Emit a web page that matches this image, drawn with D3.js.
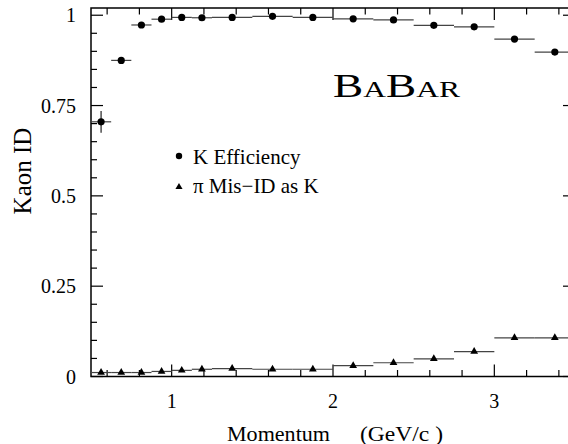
<!DOCTYPE html>
<html>
<head>
<meta charset="utf-8">
<script src="https://cdn.jsdelivr.net/npm/d3@7"></script>
<style>
  html, body { margin: 0; padding: 0; background: #fff; }
</style>
</head>
<body>
<svg id="chart" width="568" height="444"></svg>
<script>
// Momentum bins (GeV/c): lower and upper edges
const binLow  = [0.5, 0.625, 0.75, 0.875, 1.0, 1.125, 1.25, 1.5, 1.75, 2.0, 2.25, 2.5, 2.75, 3.0, 3.25];
const binHigh = [0.625, 0.75, 0.875, 1.0, 1.125, 1.25, 1.5, 1.75, 2.0, 2.25, 2.5, 2.75, 3.0, 3.25, 3.5];
// Kaon identification efficiency and its uncertainty
const kEff    = [0.705, 0.875, 0.973, 0.989, 0.994, 0.993, 0.994, 0.997, 0.994, 0.990, 0.987, 0.972, 0.968, 0.934, 0.898];
const kErr    = [0.030, 0.008, 0.005, 0.004, 0.003, 0.003, 0.003, 0.003, 0.003, 0.003, 0.003, 0.004, 0.004, 0.005, 0.006];
// Pion mis-identification rate as kaon
const piMis   = [0.011, 0.011, 0.011, 0.014, 0.017, 0.020, 0.022, 0.020, 0.020, 0.030, 0.038, 0.049, 0.069, 0.107, 0.107];
// Axis ticks
const xMajor = [1, 2, 3];
const yMajor = [0, 0.25, 0.5, 0.75, 1];
const yTickLabels = ["0", "0.25", "0.5", "0.75", "1"];
const legendLabels = ["K Efficiency", "\u03C0 Mis\u2212ID as K"];

const FONT = "\"Liberation Serif\"";
const svg = d3.select("#chart");
const x = d3.scaleLinear().domain([0.5, 3.5]).range([91, 575]);
const y = d3.scaleLinear().domain([0, 1.02]).range([376.5, 8]);

const isInt = v => Math.abs(v - Math.round(v)) < 1e-6;
const xMinor = d3.range(0.6, 3.5, 0.2).map(v => +v.toFixed(2)).filter(v => !isInt(v));
const yMinor = d3.range(0.05, 1.02, 0.05).map(v => +v.toFixed(2)).filter(v => !isInt(v * 4));

// Frame
svg.append("rect")
  .attr("x", x(0.5)).attr("y", y(1.02))
  .attr("width", x(3.5) - x(0.5)).attr("height", y(0) - y(1.02))
  .attr("fill", "none").attr("stroke", "#000").attr("stroke-width", 1.5);

// Ticks pointing inward on all four sides
const tickG = svg.append("g").attr("stroke", "#000").attr("stroke-width", 1.2);
function xTicks(vals, len) {
  vals.forEach(v => {
    tickG.append("line").attr("x1", x(v)).attr("x2", x(v)).attr("y1", y(0)).attr("y2", y(0) - len);
    tickG.append("line").attr("x1", x(v)).attr("x2", x(v)).attr("y1", y(1.02)).attr("y2", y(1.02) + len);
  });
}
function yTicks(vals, len) {
  vals.forEach(v => {
    tickG.append("line").attr("x1", x(0.5)).attr("x2", x(0.5) + len).attr("y1", y(v)).attr("y2", y(v));
    tickG.append("line").attr("x1", x(3.5)).attr("x2", x(3.5) - len).attr("y1", y(v)).attr("y2", y(v));
  });
}
xTicks(xMinor, 6.5);
xTicks(xMajor, 12);
yTicks(yMinor, 6);
yTicks(yMajor, 12);

// Tick labels
svg.append("g").selectAll("text").data(xMajor).join("text")
  .attr("x", d => x(d)).attr("y", 408)
  .attr("text-anchor", "middle").attr("font-size", 20)
  .style("font-family", FONT)
  .text(d => d);
svg.append("g").selectAll("text").data(yMajor).join("text")
  .attr("x", 76).attr("y", d => y(d) + 7)
  .attr("text-anchor", "end").attr("font-size", 20)
  .style("font-family", FONT)
  .text((d, i) => yTickLabels[i]);

// Axis titles
const xt = svg.append("text").attr("y", 441).attr("font-size", 20).style("font-family", FONT);
xt.append("tspan").attr("x", 227).attr("textLength", 103).attr("lengthAdjust", "spacingAndGlyphs").text("Momentum");
xt.append("tspan").attr("x", 360).attr("textLength", 83).attr("lengthAdjust", "spacingAndGlyphs").text("(GeV/c )");

svg.append("text")
  .attr("transform", "translate(31,171) rotate(-90)")
  .attr("text-anchor", "middle").attr("font-size", 25)
  .style("font-family", FONT)
  .text("Kaon ID");

// Experiment logo text in small caps
const logo = svg.append("text").attr("x", 333).attr("y", 97)
  .style("font-family", FONT)
  .attr("textLength", 127).attr("lengthAdjust", "spacingAndGlyphs");
[["B", 33], ["A", 23], ["B", 33], ["AR", 23]].forEach(([s, fs]) => {
  logo.append("tspan").attr("font-size", fs).text(s);
});

// Data with horizontal bin-width bars
const rows = binLow.map((lo, i) => ({ lo, hi: binHigh[i], c: (lo + binHigh[i]) / 2, k: kEff[i], ke: kErr[i], p: piMis[i] }));

const plot = svg.append("g");
plot.selectAll("line.kbin").data(rows).join("line").attr("class", "kbin")
  .attr("x1", d => x(d.lo)).attr("x2", d => x(d.hi))
  .attr("y1", d => y(d.k)).attr("y2", d => y(d.k))
  .attr("stroke", "#444").attr("stroke-width", 1.2);
plot.selectAll("line.kerr").data(rows).join("line").attr("class", "kerr")
  .attr("x1", d => x(d.c)).attr("x2", d => x(d.c))
  .attr("y1", d => y(d.k - d.ke)).attr("y2", d => y(d.k + d.ke))
  .attr("stroke", "#222").attr("stroke-width", 1.2);
plot.selectAll("circle.k").data(rows).join("circle").attr("class", "k")
  .attr("cx", d => x(d.c)).attr("cy", d => y(d.k)).attr("r", 3.6).attr("fill", "#000");

plot.selectAll("line.pbin").data(rows).join("line").attr("class", "pbin")
  .attr("x1", d => x(d.lo)).attr("x2", d => x(d.hi))
  .attr("y1", d => y(d.p)).attr("y2", d => y(d.p))
  .attr("stroke", "#444").attr("stroke-width", 1.2);
const tri = d3.symbol().type(d3.symbolTriangle).size(26);
plot.selectAll("path.p").data(rows).join("path").attr("class", "p")
  .attr("d", tri)
  .attr("transform", d => `translate(${x(d.c)},${y(d.p)})`)
  .attr("fill", "#000");

// Legend
const leg = svg.append("g");
leg.append("circle").attr("cx", 179).attr("cy", 156).attr("r", 3.2).attr("fill", "#000");
leg.append("path").attr("d", d3.symbol().type(d3.symbolTriangle).size(22)).attr("transform", "translate(179,187)").attr("fill", "#000");
leg.append("text").attr("x", 193).attr("y", 164).attr("font-size", 21).style("font-family", FONT).text(legendLabels[0]);
leg.append("text").attr("x", 193).attr("y", 193).attr("font-size", 21).style("font-family", FONT).text(legendLabels[1]);
</script>
</body>
</html>
